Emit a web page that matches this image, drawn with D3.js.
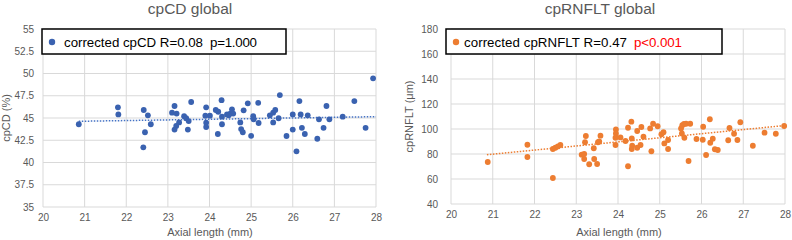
<!DOCTYPE html>
<html>
<head>
<meta charset="utf-8">
<script src="https://cdn.jsdelivr.net/npm/d3@7"></script>
<style>
  body { margin: 0; background: #fff; }
  svg { display: block; font-family: "Liberation Sans", Arial, sans-serif; }
</style>
</head>
<body>
<div id="chart"></div>
<script>
// cpCD scatter (axial length, %)
const cdAxial = [20.86, 21.80, 21.81, 22.42, 22.52, 22.59, 22.45, 22.41, 23.10, 23.16,
  23.21, 23.56, 23.27, 23.20, 23.16, 23.39, 23.44, 23.50, 23.48, 23.92,
  23.90, 24.01, 23.92, 23.92, 24.15, 24.21, 24.29, 24.30, 24.30, 24.20,
  24.42, 24.50, 24.54, 24.57, 24.46, 24.74, 24.82, 24.92, 24.76, 24.80,
  25.00, 25.05, 25.06, 25.17, 25.18, 25.45, 25.53, 25.58, 25.53, 25.66,
  25.69, 25.85, 26.00, 26.00, 26.16, 26.19, 26.22, 26.29, 26.09, 26.36,
  26.63, 26.59, 26.74, 26.81, 26.88, 27.20, 27.48, 27.75, 27.93];
const cdValue = [44.3, 46.2, 45.4, 45.9, 45.3, 44.3, 43.4, 41.7, 45.6, 46.35,
  45.5, 46.8, 44.5, 44.1, 43.7, 45.2, 44.97, 44.66, 43.7, 46.2,
  45.26, 45.26, 44.47, 43.99, 45.9, 45.7, 47.0, 45.15, 44.3, 43.2,
  45.4, 45.5, 45.98, 45.5, 45.3, 44.5, 45.86, 46.65, 43.76, 43.4,
  43.0, 45.2, 44.86, 46.7, 44.44, 45.3, 45.6, 45.9, 44.5, 44.97,
  47.58, 42.98, 45.4, 43.7, 46.9, 45.4, 43.9, 43.2, 41.26, 45.3,
  44.85, 42.67, 43.9, 46.35, 44.85, 45.15, 46.9, 43.9, 49.46];
const cdTrendX = [20.86, 28.0];
const cdTrendY = [44.63, 45.15];

// cpRNFLT scatter (axial length, um)
const rnAxial = [20.88, 21.83, 21.83, 22.44, 22.44, 22.50, 22.56, 22.62, 23.13, 23.19,
  23.19, 23.23, 23.21, 23.31, 23.43, 23.50, 23.42, 23.52, 23.55, 23.58,
  23.95, 23.95, 23.94, 23.94, 24.06, 24.18, 24.24, 24.24, 24.32, 24.33,
  24.34, 24.33, 24.46, 24.46, 24.54, 24.56, 24.61, 24.77, 24.80, 24.84,
  24.95, 25.04, 25.09, 25.11, 25.20, 25.20, 25.51, 25.54, 25.53, 25.58,
  25.59, 25.63, 25.73, 25.69, 25.88, 26.04, 26.03, 26.11, 26.20, 26.21,
  26.27, 26.32, 26.39, 26.64, 26.67, 26.78, 26.86, 26.93, 27.23, 27.51,
  27.78, 27.98];
const rnValue = [73.6, 87.4, 77.6, 60.8, 84.0, 85.0, 86.1, 87.2, 79.5, 80.0,
  76.0, 94.4, 89.4, 71.8, 76.0, 72.0, 84.6, 89.4, 90.0, 94.7,
  99.7, 96.5, 93.0, 87.2, 93.3, 90.4, 101.0, 70.2, 105.9, 92.5,
  86.6, 84.0, 98.4, 85.0, 87.2, 101.6, 93.8, 100.5, 82.2, 104.2,
  102.2, 95.8, 97.4, 88.5, 91.2, 84.0, 100.5, 103.0, 96.5, 104.0,
  93.0, 104.2, 104.2, 74.4, 92.0, 101.8, 91.4, 79.2, 107.8, 89.0,
  92.2, 83.8, 83.2, 91.0, 100.8, 96.2, 91.2, 105.4, 86.6, 97.1,
  96.2, 102.4];
const rnTrendX = [20.86, 28.0];
const rnTrendY = [79.4, 102.8];

const axialTicks = [20, 21, 22, 23, 24, 25, 26, 27, 28];
const cdTicks = [35, 37.5, 40, 42.5, 45, 47.5, 50, 52.5, 55];
const rnTicks = [40, 60, 80, 100, 120, 140, 160, 180];

const W = 792, H = 240;
const svg = d3.select("#chart").append("svg")
  .attr("width", W).attr("height", H);

const grey = "#595959";

function drawPanel(p) {
  const g = svg.append("g");
  const x = d3.scaleLinear().domain([20, 28]).range([p.left, p.right]);
  const y = d3.scaleLinear().domain(d3.extent(p.yTicks)).range([p.bottom, p.top]);

  // gridlines
  g.append("g").selectAll("line").data(axialTicks).join("line")
    .attr("x1", d => x(d)).attr("x2", d => x(d))
    .attr("y1", p.top).attr("y2", p.bottom)
    .attr("stroke", "#d9d9d9").attr("stroke-width", 1);
  g.append("g").selectAll("line").data(p.yTicks).join("line")
    .attr("x1", p.left).attr("x2", p.right)
    .attr("y1", d => y(d)).attr("y2", d => y(d))
    .attr("stroke", "#d9d9d9").attr("stroke-width", 1);

  // axes (labels only)
  const xa = g.append("g").attr("transform", `translate(0,${p.bottom})`)
    .call(d3.axisBottom(x).tickValues(axialTicks).tickSize(0).tickPadding(7));
  const ya = g.append("g").attr("transform", `translate(${p.left},0)`)
    .call(d3.axisLeft(y).tickValues(p.yTicks).tickSize(0).tickPadding(p.yPad)
      .tickFormat(d => String(d)));
  [xa, ya].forEach(a => {
    a.select(".domain").remove();
    a.selectAll("text").attr("fill", grey).attr("font-size", 10)
      .attr("font-family", "Liberation Sans, Arial, sans-serif");
  });

  // trend line
  g.append("path")
    .datum(d3.zip(p.trendX, p.trendY))
    .attr("d", d3.line().x(d => x(d[0])).y(d => y(d[1])))
    .attr("fill", "none").attr("stroke", p.trendColor)
    .attr("stroke-width", 1.5).attr("stroke-dasharray", "1.5,1.5");

  // points
  g.append("g").selectAll("circle").data(d3.zip(p.xs, p.ys)).join("circle")
    .attr("cx", d => x(d[0])).attr("cy", d => y(d[1]))
    .attr("r", 2.9).attr("fill", p.color);

  // titles
  g.append("text").attr("x", p.titleX).attr("y", 14)
    .attr("text-anchor", "middle").attr("fill", grey).attr("font-size", 15.5)
    .text(p.title);
  g.append("text").attr("x", p.xlabX).attr("y", 236)
    .attr("text-anchor", "middle").attr("fill", grey).attr("font-size", 11)
    .text("Axial length (mm)");
  g.append("text")
    .attr("transform", `translate(${p.ylabX},${(p.top + p.bottom) / 2}) rotate(-90)`)
    .attr("text-anchor", "middle").attr("fill", grey).attr("font-size", 11)
    .text(p.ylab);

  // legend
  const lg = g.append("g");
  lg.append("rect").attr("x", p.leg[0]).attr("y", p.leg[1])
    .attr("width", p.leg[2]).attr("height", p.leg[3])
    .attr("fill", "#fff").attr("stroke", "#000").attr("stroke-width", 1.5);
  lg.append("circle").attr("cx", p.leg[0] + p.legDot).attr("cy", p.leg[1] + 13)
    .attr("r", 3.2).attr("fill", p.color);
  // legend text pieces: [text, x, width, colour]
  p.legParts.forEach(s => {
    lg.append("text").attr("x", s[1]).attr("y", p.leg[1] + 17.5)
      .attr("font-size", 13.3).attr("fill", s[3])
      .attr("textLength", s[2]).attr("lengthAdjust", "spacing")
      .text(s[0]);
  });
}

drawPanel({
  left: 43, right: 376, top: 29, bottom: 207, yPad: 9,
  yTicks: cdTicks, xs: cdAxial, ys: cdValue,
  trendX: cdTrendX, trendY: cdTrendY,
  color: "#3a62b0", trendColor: "#4472c4",
  title: "cpCD global", titleX: 190, xlabX: 210,
  ylab: "cpCD (%)", ylabX: 10,
  leg: [42, 29, 244, 25], legDot: 10,
  legParts: [["corrected cpCD R=0.08", 64, 139, "#000"], ["p=1.000", 210, 47, "#000"]]
});

drawPanel({
  left: 451, right: 785, top: 29, bottom: 204, yPad: 13,
  yTicks: rnTicks, xs: rnAxial, ys: rnValue,
  trendX: rnTrendX, trendY: rnTrendY,
  color: "#ed7d31", trendColor: "#ed7d31",
  title: "cpRNFLT global", titleX: 600, xlabX: 619,
  ylab: "cpRNFLT (\u03bcm)", ylabX: 413,
  leg: [446, 29, 276, 25], legDot: 10,
  legParts: [["corrected cpRNFLT R=0.47", 464, 163, "#000"], ["p<0.001", 634, 48, "#ff0000"]]
});
</script>
</body>
</html>
